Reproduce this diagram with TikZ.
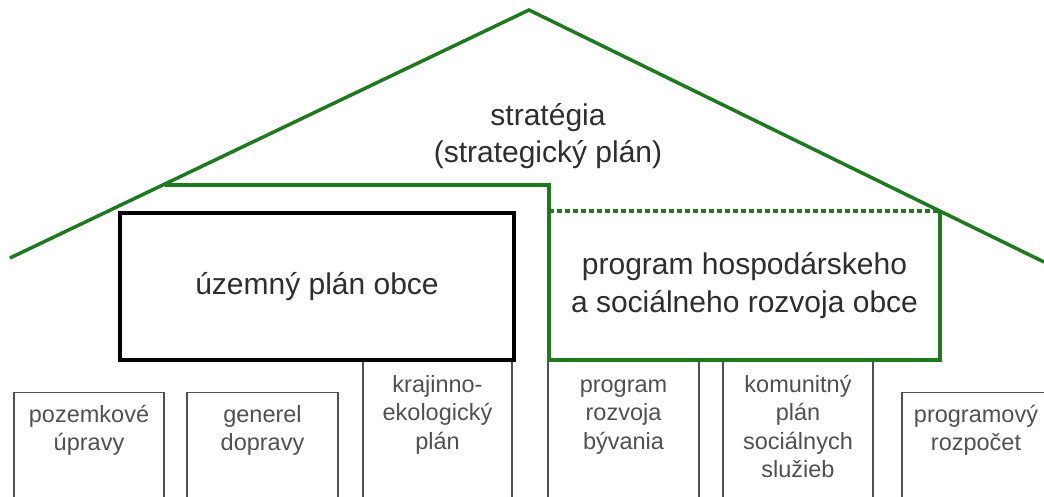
\documentclass[tikz,border=0pt]{standalone}
\usepackage{fontspec}
\setmainfont{Liberation Sans}
\usetikzlibrary{positioning}
\definecolor{roofgreen}{RGB}{30,122,30}
\definecolor{textgray}{RGB}{45,45,50}
\definecolor{smallgray}{RGB}{80,80,80}
\tikzset{
  roof/.style={draw=roofgreen, line width=3.5pt, line join=miter},
  bigtext/.style={text=textgray, align=center, font=\fontsize{30}{37.5}\selectfont},
  smalltext/.style={text=smallgray, align=center, inner sep=0pt, font=\fontsize{23.5}{28.5}\selectfont},
  smallbox/.style={draw=smallgray, line width=1.2pt, minimum height=200pt, anchor=north, inner sep=0pt},
  planbox/.style={draw=black, line width=4pt, bigtext},
}
\begin{document}
\begin{tikzpicture}[x=1pt,y=-1pt]
		\useasboundingbox (0,0) rectangle (1044,497);
		\clip (0,0) rectangle (1044,497);
		% bottom boxes
		\node[smallbox, minimum width=150pt] (pozemk) at (89,392) {};
		\node[smallbox, minimum width=151pt] (generel) at (262.5,392) {};
		\node[smallbox, minimum width=149pt] (krajin) at (437.5,360) {};
		\node[smallbox, minimum width=151pt] (byvanie) at (623.5,360) {};
		\node[smallbox, minimum width=150pt] (komunit) at (798,360) {};
		\node[smallbox, minimum width=148pt] (rozpocet) at (976,392) {};
		\node[smalltext, anchor=north, below=10pt of pozemk.north] (pozemkT) {\strut pozemkové\\úpravy};
		\node[smalltext, anchor=north, below=10pt of generel.north] (generelT) {\strut generel\\dopravy};
		\node[smalltext, anchor=north, below=12pt of krajin.north] (krajinT) {\strut krajinno-\\ekologický\\plán};
		\node[smalltext, anchor=north, below=12pt of byvanie.north] (byvanieT) {\strut program\\rozvoja\\bývania};
		\node[smalltext, anchor=north, below=12pt of komunit.north] (komunitT) {\strut komunitný\\plán\\sociálnych\\služieb};
		\node[smalltext, anchor=north, below=10pt of rozpocet.north] (rozpocetT) {\strut programový\\rozpočet};
		% roof
		\coordinate (eaveL) at (10,258);
		\coordinate (apex) at (529,10);
		\coordinate (eaveR) at (1044,262);
		\draw[roof] (eaveL) -- (apex) -- (eaveR);
		\node[bigtext] (strategia) at (548,136) {stratégia\\(strategický plán)};
		% plans
		\node[planbox, minimum width=394pt, minimum height=147pt] (uzemny) at (317,286.5) {územný plán obce};
		\node[bigtext, minimum width=391pt, minimum height=149pt] (program) at (744.5,285.5) {program hospodárskeho\\a sociálneho rozvoja obce};
		\coordinate (step) at (165,185);
		\draw[roof] (step) -- (program.north west |- step) -- (program.north west) -- (program.south west) -- (program.south east) -- (program.north east);
		\draw[roof, dash pattern=on 5pt off 3pt] (program.north west) -- (program.north east);
\end{tikzpicture}
\end{document}
